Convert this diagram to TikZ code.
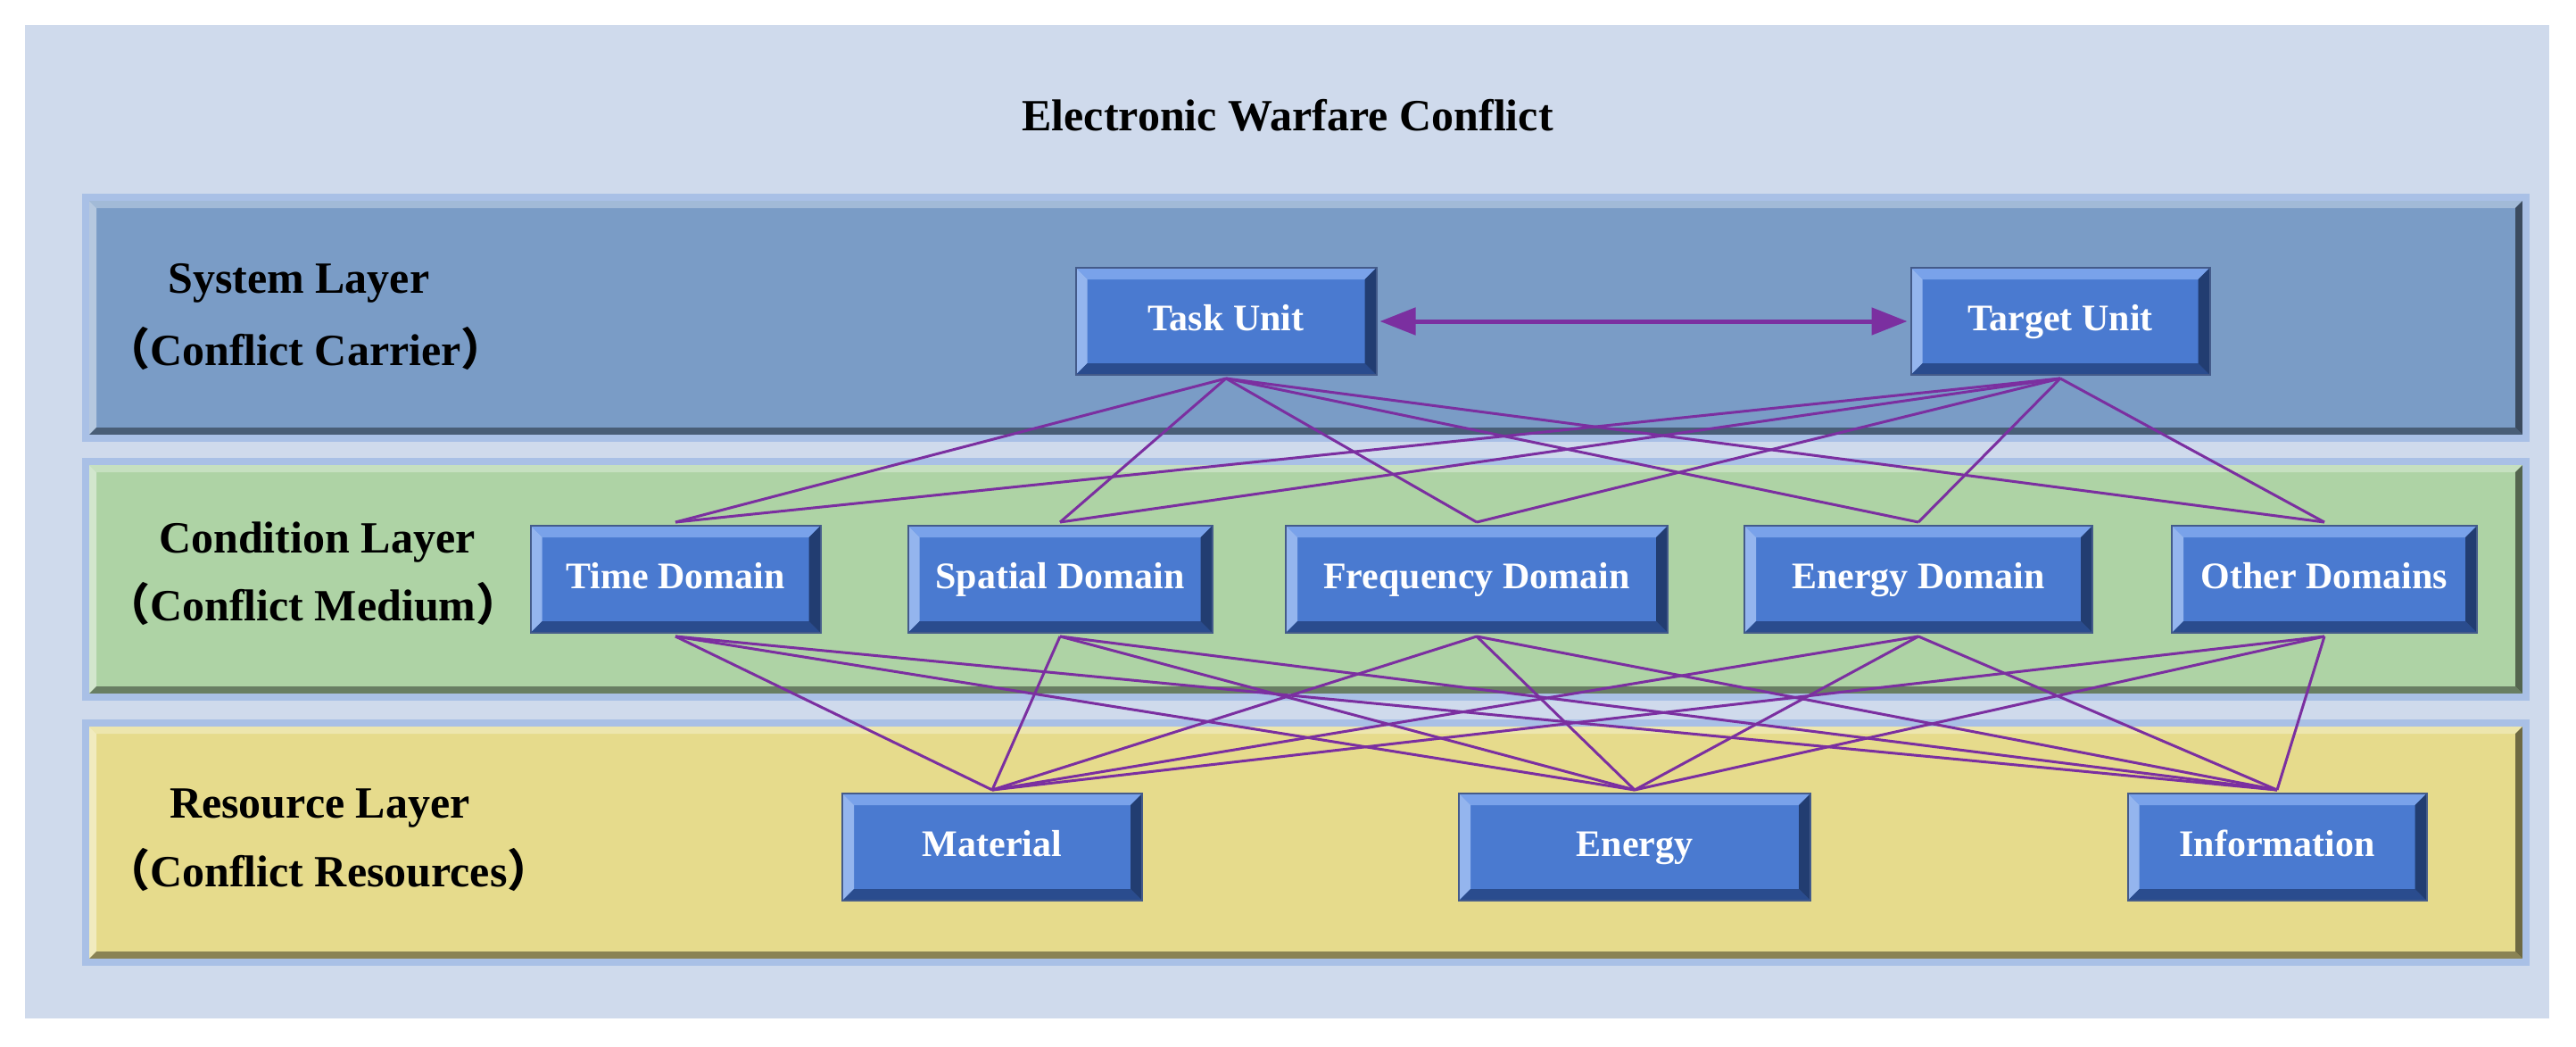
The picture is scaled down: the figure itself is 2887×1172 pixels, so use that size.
\documentclass[tikz,border=0pt]{standalone}
\usepackage{fontspec}
\setmainfont{Liberation Serif}
\newfontfamily\cjk{Noto Sans CJK SC}
\usetikzlibrary{arrows.meta}
\definecolor{panel}{HTML}{CFDAEC}
\definecolor{sysc}{HTML}{7A9CC6}
\definecolor{conc}{HTML}{AED3A5}
\definecolor{resc}{HTML}{E6DB8C}
\definecolor{glow}{HTML}{A9C0E6}
\definecolor{boxc}{HTML}{4A7AD0}
\definecolor{boxl}{HTML}{79A2EA}
\definecolor{boxd}{HTML}{2A4C8E}
\definecolor{linec}{HTML}{7B2FA0}
\newcommand{\bev}[3]{%
 \fill[#2] (path picture bounding box.north west) -- (path picture bounding box.north east) -- ([shift={(-#1,-#1)}]path picture bounding box.north east) -- ([shift={(#1,-#1)}]path picture bounding box.north west) -- cycle;
 \fill[#2!80!white] (path picture bounding box.north west) -- (path picture bounding box.south west) -- ([shift={(#1,#1)}]path picture bounding box.south west) -- ([shift={(#1,-#1)}]path picture bounding box.north west) -- cycle;
 \fill[#3] (path picture bounding box.south west) -- (path picture bounding box.south east) -- ([shift={(-#1,#1)}]path picture bounding box.south east) -- ([shift={(#1,#1)}]path picture bounding box.south west) -- cycle;
 \fill[#3!80!black] (path picture bounding box.north east) -- (path picture bounding box.south east) -- ([shift={(-#1,#1)}]path picture bounding box.south east) -- ([shift={(-#1,-#1)}]path picture bounding box.north east) -- cycle;}
\tikzset{
 x=1pt,y=-1pt,
 box/.style={fill=boxc, draw=boxd!70!gray, line width=2pt, minimum height=120pt, text=white,
   font=\fontsize{42}{46}\selectfont\bfseries, inner sep=0pt, outer sep=4pt,
   text height=29pt, text depth=9pt,
   path picture={\bev{13pt}{boxl}{boxd}}},
 layer/.style={draw=glow, line width=8pt, minimum width=2735pt, anchor=north west, inner sep=0pt,
   path picture={\bev{12pt}{#1!70!white}{#1!60!black}}},
 lab/.style={font=\fontsize{50}{54}\selectfont\bfseries, anchor=west, inner sep=0pt},
 conn/.style={draw=linec, line width=3pt},
}
\begin{document}
\begin{tikzpicture}
\useasboundingbox (0,0) rectangle (2887,1172);
\fill[white] (0,0) rectangle (2887,1172);
\fill[panel] (28,28) rectangle (2857,1141);
\node[font=\fontsize{50}{54}\selectfont\bfseries] (title) at (1443,129) {Electronic Warfare Conflict};
% layers
\node[layer=sysc, fill=sysc, minimum height=270pt] (L1) at (92,217) {};
\node[layer=conc, fill=conc, minimum height=264pt] (L2) at (92,513) {};
\node[layer=resc, fill=resc, minimum height=268pt] (L3) at (92,806) {};
% labels
\node[lab] (s1) at (188,317) {System Layer};
\node[lab] (s2) at (118,390) {{\cjk （}Conflict Carrier{\cjk ）}};
\node[lab] (c1) at (178,608) {Condition Layer};
\node[lab] (c2) at (118,676) {{\cjk （}Conflict Medium{\cjk ）}};
\node[lab] (r1) at (190,906) {Resource Layer};
\node[lab] (r2) at (118,974) {{\cjk （}Conflict Resources{\cjk ）}};
% boxes
\node[box, minimum width=337pt] (task) at (1374,360) {Task Unit};
\node[box, minimum width=335pt] (target) at (2309,360) {Target Unit};
\node[box, minimum width=325pt] (time) at (757,649) {Time Domain};
\node[box, minimum width=341pt] (spat) at (1188,649) {Spatial Domain};
\node[box, minimum width=428pt] (freq) at (1655,649) {Frequency Domain};
\node[box, minimum width=390pt] (ener) at (2150,649) {Energy Domain};
\node[box, minimum width=342pt] (other) at (2605,649) {Other Domains};
\node[box, minimum width=336pt] (mat) at (1112,949) {Material};
\node[box, minimum width=394pt] (eng) at (1832,949) {Energy};
\node[box, minimum width=335pt] (info) at (2552,949) {Information};
% connectors
\draw[conn, line width=5pt, {Triangle[length=40pt,width=30pt]}-{Triangle[length=40pt,width=30pt]}] (task) -- (target);
\foreach \u in {task,target}
  \foreach \d in {time,spat,freq,ener,other}
    \draw[conn] (\u.south) -- (\d.north);
\foreach \d in {time,spat,freq,ener,other}
  \foreach \r in {mat,eng,info}
    \draw[conn] (\d.south) -- (\r.north);
\end{tikzpicture}
\end{document}
